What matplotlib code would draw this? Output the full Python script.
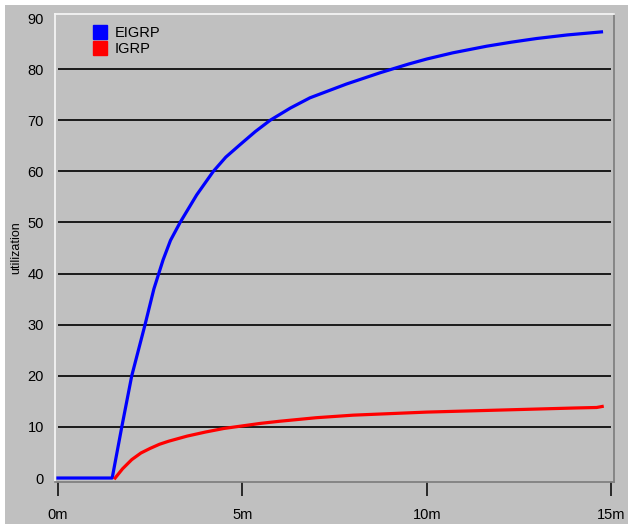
import matplotlib.pyplot as plt
from matplotlib.patches import Rectangle
from matplotlib.lines import Line2D

plt.rcParams['font.family'] = ['Liberation Sans', 'DejaVu Sans']

# data (minutes, utilization)
eigrp_t = [0, 1.47, 1.73, 2.0, 2.36, 2.6, 2.85, 3.05, 3.31, 3.76, 4.21, 4.55, 4.93,
           5.35, 5.75, 6.3, 6.83, 7.82, 8.73, 9.5, 10.0, 10.7, 11.62, 12.3, 12.97,
           13.8, 14.73]
eigrp_u = [0, 0, 10, 20, 30, 37, 42.7, 46.5, 50, 55.4, 60, 62.8, 65.2,
           67.8, 70, 72.4, 74.4, 77.1, 79.3, 81.0, 82.0, 83.2, 84.5, 85.3, 86.0,
           86.7, 87.3]

igrp_t = [1.55, 1.75, 2.0, 2.25, 2.5, 2.75, 3.0, 3.25, 3.5, 4.0, 4.5, 5.0,
          5.5, 6.0, 7.0, 8.0, 9.0, 10.0, 11.0, 12.0, 13.0, 14.0, 14.6, 14.75]
igrp_u = [0, 1.8, 3.6, 4.9, 5.8, 6.6, 7.2, 7.7, 8.2, 9.0, 9.7, 10.2,
          10.7, 11.1, 11.8, 12.3, 12.6, 12.9, 13.1, 13.3, 13.5, 13.7, 13.8, 14.0]

grid_levels = [10, 20, 30, 40, 50, 60, 70, 80]
x_ticks = [0, 5, 10, 15]
x_labels = ['0m', '5m', '10m', '15m']
y_ticks = [0, 10, 20, 30, 40, 50, 60, 70, 80, 90]

gray = '#c0c0c0'

fig = plt.figure(figsize=(6.28, 5.24), dpi=100, facecolor='white')
# gray panel with a thin white margin on top and left
fig.patches.append(Rectangle((5 / 628, 0), 1, 1 - 5 / 524, transform=fig.transFigure,
                             facecolor=gray, edgecolor='none', zorder=-10))

ax = fig.add_axes([55 / 628, 42 / 524, 559 / 628, 468 / 524])
ax.set_facecolor(gray)

ax.hlines(grid_levels, 0, 15, colors='#1a1a1a', linewidth=1.4, zorder=1)

ax.plot(eigrp_t, eigrp_u, color='#0000ff', linewidth=2.3, zorder=3)
ax.plot(igrp_t, igrp_u, color='#ff0000', linewidth=2.3, zorder=3)

ax.set_xlim(-0.08, 15.07)
ax.set_ylim(-0.78, 90.8)

ax.set_xticks(x_ticks)
ax.set_xticklabels(x_labels)
ax.set_yticks(y_ticks)
ax.tick_params(axis='x', direction='out', length=10, width=1.1, color='black',
               labelsize=10.5, pad=9)
ax.tick_params(axis='y', length=0, labelsize=10.5, pad=8)

for side in ['left', 'top']:
    ax.spines[side].set_color('#f4f4f4')
    ax.spines[side].set_linewidth(1.3)
for side in ['right', 'bottom']:
    ax.spines[side].set_color('#808080')
    ax.spines[side].set_linewidth(1.3)

ax.set_ylabel('utilization', fontsize=9, labelpad=4)

handles = [Line2D([], [], linestyle='none', marker='s', markersize=10,
                  markerfacecolor='#0000ff', markeredgecolor='#0000ff'),
           Line2D([], [], linestyle='none', marker='s', markersize=10,
                  markerfacecolor='#ff0000', markeredgecolor='#ff0000')]
ax.legend(handles, ['EIGRP', 'IGRP'], loc='upper left', bbox_to_anchor=(0.055, 0.99),
          frameon=False, fontsize=10.5, handlelength=1.0, handletextpad=0.5,
          labelspacing=0.15, borderpad=0)

fig.savefig('out.png', dpi=100, facecolor='white')
